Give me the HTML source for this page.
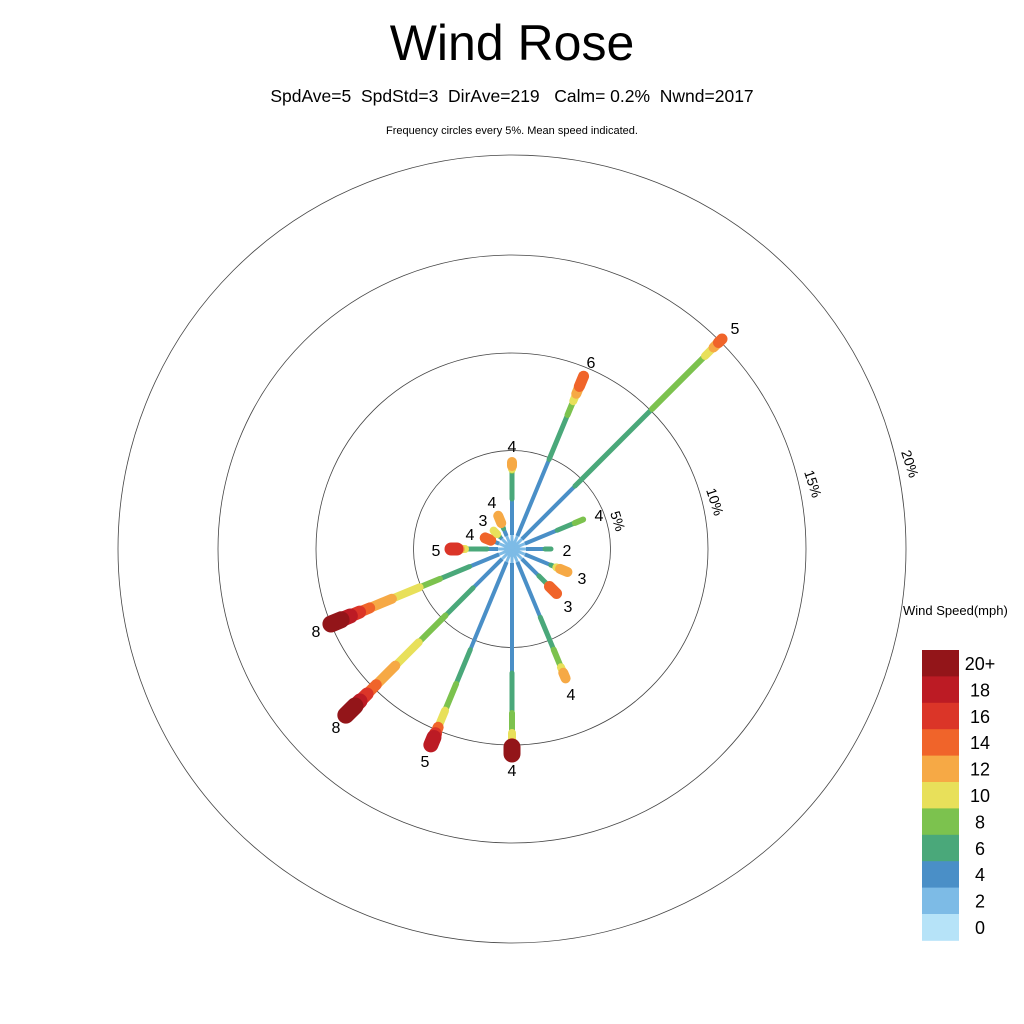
<!DOCTYPE html>
<html><head><meta charset="utf-8"><style>
html,body{margin:0;padding:0;background:#fff;}
svg{display:block;font-family:"Liberation Sans",Arial,sans-serif;}
</style></head><body>
<svg id="s" width="1024" height="1024" viewBox="0 0 1024 1024" xmlns="http://www.w3.org/2000/svg">
<rect width="1024" height="1024" fill="#fff"/>
<text x="512" y="60" font-size="50" text-anchor="middle">Wind Rose</text>
<text x="512" y="102" font-size="17.5" text-anchor="middle" xml:space="preserve">SpdAve=5  SpdStd=3  DirAve=219   Calm= 0.2%  Nwnd=2017</text>
<text x="512" y="134" font-size="11" text-anchor="middle">Frequency circles every 5%. Mean speed indicated.</text>
<g fill="none" stroke="#444" stroke-width="0.8">
<circle cx="512" cy="549" r="98.5"/>
<circle cx="512" cy="549" r="196"/>
<circle cx="512" cy="549" r="294"/>
<circle cx="512" cy="549" r="394"/>
</g>
<g font-size="14">
<text transform="translate(610,513) rotate(72)">5%</text>
<text transform="translate(706,490) rotate(72)">10%</text>
<text transform="translate(804,472) rotate(72)">15%</text>
<text transform="translate(901,452) rotate(72)">20%</text>
</g>
<g id="rays" stroke-linecap="round"></g>
<g font-size="16" text-anchor="middle">
<text x="512" y="452">4</text>
<text x="591" y="368">6</text>
<text x="735" y="334">5</text>
<text x="599" y="521">4</text>
<text x="567" y="556">2</text>
<text x="582" y="584">3</text>
<text x="568" y="612">3</text>
<text x="571" y="700">4</text>
<text x="512" y="776">4</text>
<text x="425" y="767">5</text>
<text x="336" y="733">8</text>
<text x="316" y="637">8</text>
<text x="436" y="556">5</text>
<text x="470" y="540">4</text>
<text x="483" y="526">3</text>
<text x="492" y="508">4</text>
</g>
<text x="903" y="615" font-size="13">Wind Speed(mph)</text>
<g id="leg"></g>
</svg>
<script>
var C=["#b6e3f8","#7dbbe6","#4a8fc7","#4aa87a","#7cc24e","#e8e05a","#f6a945","#f0642a","#db3528","#bc1b24","#931519"];
var W=[2,3,4,5,6,8,10,11,13,15,17];
var R=[
[0,[[14,1],[50,2],[78,3],[80,4],[83,5],[87,6]]],
[22.5,[[14,1],[97,2],[145,3],[160,4],[168,5],[176,6],[187,7]]],
[45,[[14,1],[89,2],[198,3],[273,4],[285,5],[292,6],[297,7]]],
[67.5,[[14,1],[49,2],[68,3],[77,4]]],
[90,[[14,1],[33,2],[39,3]]],
[112.5,[[14,1],[42,2],[48,3],[52,5],[60,6]]],
[135,[[14,1],[38,2],[50,3],[53,4],[63,7]]],
[157.5,[[14,1],[74,2],[109,3],[128,4],[134,5],[140,6]]],
[180,[[14,1],[124,2],[164,3],[184,4],[194,5],[198,6],[205,10]]],
[202.5,[[14,1],[109,2],[146,3],[175,4],[193,5],[200,7],[204,8],[212,9]]],
[225,[[14,1],[55,2],[94,3],[132,4],[165,5],[192,6],[205,7],[215,8],[222,9],[235,10]]],
[247.5,[[14,1],[46,2],[78,3],[100,4],[130,5],[154,6],[165,7],[175,8],[185,9],[196,10]]],
[270,[[14,1],[25,2],[47,3],[52,5],[55,6],[58,8],[61,8]]],
[292.5,[[14,1],[20,2],[23,3],[29,7]]],
[315,[[14,1],[18,2],[21,3],[26,5]]],
[337.5,[[14,1],[22,2],[28,3],[36,6]]]
];
var g=document.getElementById("rays"),h="";
R.forEach(function(r){var a=r[0]*Math.PI/180,sx=Math.sin(a),cy=-Math.cos(a),p=0;
r[1].forEach(function(s){var x1=512+sx*p,y1=549+cy*p,x2=512+sx*s[0],y2=549+cy*s[0];
h+='<line x1="'+x1+'" y1="'+y1+'" x2="'+x2+'" y2="'+y2+'" stroke="'+C[s[1]]+'" stroke-width="'+W[s[1]]+'"'+(s[1]<3?' stroke-linecap="butt"':'')+'/>';p=s[0];});});
g.innerHTML=h;
var L=document.getElementById("leg"),lh="",lab=["20+","18","16","14","12","10","8","6","4","2","0"];
for(var i=0;i<11;i++){var y=650+i*26.4;lh+='<rect x="922" y="'+y+'" width="37" height="26.8" fill="'+C[10-i]+'"/><text x="980" y="'+(y+20)+'" font-size="18" text-anchor="middle">'+lab[i]+'</text>';}
L.innerHTML=lh;
</script>
</body></html>
